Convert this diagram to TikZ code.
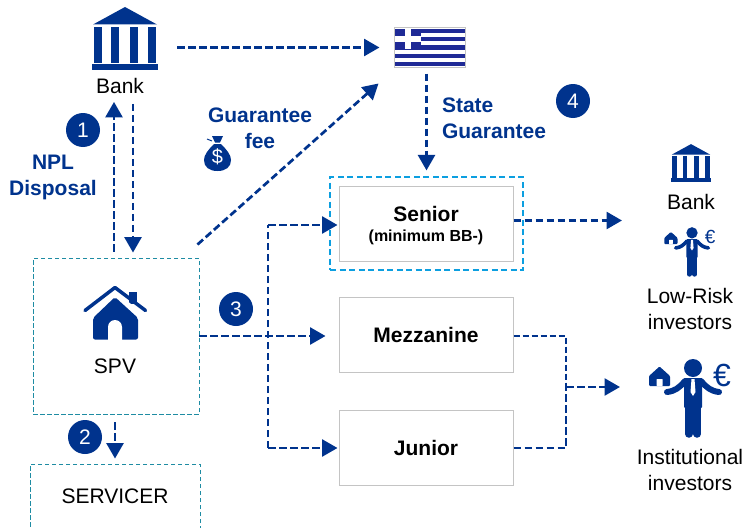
\documentclass[tikz,border=0pt]{standalone}
\usepackage{xcolor}
\usepackage{fontspec}
\setmainfont{Liberation Sans}
\usetikzlibrary{arrows.meta}

\definecolor{navy}{HTML}{00338D}
\definecolor{flagblue}{HTML}{1F2A96}
\definecolor{framelight}{HTML}{0C9FE0}
\definecolor{frameteal}{HTML}{1E8CA3}
\definecolor{boxgray}{HTML}{C4C4C4}

\newcommand{\fs}[1]{\fontsize{#1}{26}\selectfont}

\tikzset{
  flowline/.style={navy,line width=2.7pt,dash pattern=on 7.5pt off 3.5pt},
  flowarrow/.style={flowline,-{Triangle[length=15.5pt,width=17pt]}},
  flowthin/.style={navy,line width=2.2pt,dash pattern=on 6pt off 3pt},
  plainlabel/.style={inner sep=0pt,align=center,font=\fs{21}},
  bluelabel/.style={inner sep=0pt,align=center,text=navy,font=\fs{21}\bfseries},
  numdot/.style={circle,fill=navy,text=white,inner sep=0pt,minimum size=34pt,font=\fs{21}},
  trancheb/.style={draw=boxgray,line width=1pt,fill=white,minimum width=174pt,minimum height=75pt,inner sep=0pt,font=\fs{21}\bfseries},
  tealframe/.style={draw=frameteal,line width=.9pt,dash pattern=on 4.5pt off 2.5pt,inner sep=0pt},
  pics/bankicon/.style={code={
    \fill[navy] (0,-31.5) -- (32,-14) -- (-32,-14) -- cycle;
    \foreach \cx in {-27,-10,9,27}
      \fill[navy] (\cx-4,-11.5) rectangle (\cx+4,24.5);
    \fill[navy] (-33,25.5) rectangle (33,31.5);
  }},
  pics/investor/.style 2 args={code={
    \fill[navy] (0,-32) circle (9);
    \fill[navy,rounded corners=1pt] (-9,-22) rectangle (9,8);
    \draw[navy,line width=#2,line cap=round] (-8,-19) .. controls (-14,-12) and (-18,-9) .. (-26,-8);
    \draw[navy,line width=#2,line cap=round] (8,-19) .. controls (14,-12) and (18,-9) .. (26,-8);
    \draw[navy,line width=#2*1.25,line cap=round] (-4.2,6) -- (-4.2,34);
    \draw[navy,line width=#2*1.25,line cap=round] (4.2,6) -- (4.2,34);
    \fill[white] (-1.5,-21) -- (1.5,-21) -- (2.5,-8) -- (0,-4) -- (-2.5,-8) -- cycle;
    \fill[navy,rounded corners=1pt] (-33.5,-33.5) -- (-23,-24) -- (-23,-14) -- (-44,-14) -- (-44,-24) -- cycle;
    \fill[white,rounded corners=.5pt] (-36.5,-14) rectangle (-30.5,-21);
    \node[text=navy,inner sep=0pt,font=\fontsize{#1}{#1}\selectfont] at (29,-25) {€};
  }}
}

\begin{document}
\begin{tikzpicture}[x=1pt,y=-1pt]
  \useasboundingbox (0,0) rectangle (746,527);

  % left column
  \pic at (125,38.5) {bankicon};
  \node[minimum width=66pt,minimum height=63pt,inner sep=0pt] (bank) at (125,38.5) {};
  \node[plainlabel] (banklbl) at (120,86) {Bank};
  \node[tealframe,minimum width=166pt,minimum height=156pt] (spv) at (116,336) {};
  \node[plainlabel] (spvlbl) at (115,366) {SPV};
  \node[tealframe,minimum width=170pt,minimum height=64pt,font=\fs{21}] (servicer) at (115,496) {SERVICER};

  % house of the spv
  \fill[navy,rounded corners=2pt] (115,297) -- (138,318) -- (138,339.5) -- (93,339.5) -- (93,318) -- cycle;
  \fill[navy] (129,292) rectangle (137,304);
  \draw[white,line width=3pt] (115,292) -- (140,314);
  \draw[navy,line width=3.5pt,line cap=round,line join=round] (85,310.5) -- (115,287.5) -- (145.5,310.5);
  \fill[white] (108,340) -- (108,327) arc (180:360:7) -- (122,340) -- cycle;

  % flag
  \node[draw=boxgray,line width=1pt,minimum width=71pt,minimum height=39pt,inner sep=0pt] (flag) at (429.5,47.5) {};
  \fill[flagblue] (395,29) rectangle (465,66);
  \foreach \st in {1,3,5,7}
    \fill[white] (395,29+\st*4.11) rectangle (465,29+\st*4.11+4.11);
  \fill[flagblue] (395,29) rectangle (421,49.5);
  \fill[white] (404.5,29) rectangle (410.5,49.5);
  \fill[white] (395,36.5) rectangle (421,42.5);

  % tranches
  \node[draw=framelight,line width=1.2pt,dash pattern=on 6pt off 3.5pt,minimum width=193pt,minimum height=93pt,inner sep=0pt] (seniorframe) at (426.5,223.5) {};
  \node[trancheb] (senior) at (426,223.5) {};
  \node[inner sep=0pt,font=\fs{21}\bfseries] (seniorlbl) at (426,214) {Senior};
  \node[inner sep=0pt,font=\fs{16}\bfseries] (seniorsub) at (426,237) {(minimum BB-)};
  \node[trancheb] (mezz) at (426,334.5) {Mezzanine};
  \node[trancheb] (junior) at (426,448) {Junior};

  % investors
  \pic[scale=.6] at (691,163) {bankicon};
  \node[plainlabel] (bankinv) at (691,202) {Bank};
  \pic[scale=.63] at (692,253) {investor={19}{3.6pt}};
  \node[plainlabel] (lowrisk) at (690,309) {Low-Risk\\investors};
  \pic at (693,400) {investor={32}{6pt}};
  \node[plainlabel] (instit) at (690,470) {Institutional\\investors};

  % money bag
  \fill[navy] (214,144) .. controls (208,150) and (204,155) .. (204,160)
    .. controls (204,167) and (209,171) .. (217.5,171)
    .. controls (226,171) and (231,167) .. (231,160)
    .. controls (231,155) and (227,150) .. (221,144) -- cycle;
  \fill[navy] (212,136) -- (223,136) -- (220,142.5) -- (215,142.5) -- cycle;
  \draw[navy,line width=1pt] (207,139) -- (212,141);
  \node[text=white,inner sep=0pt,font=\fs{20}] (dollar) at (217.5,157) {\$};

  % text and numbers
  \node[numdot] (one) at (83,130) {1};
  \node[numdot] (two) at (85,437) {2};
  \node[numdot] (three) at (236,309) {3};
  \node[numdot] (four) at (573,101) {4};
  \node[bluelabel] (npl) at (53,177) {NPL\\Disposal};
  \node[bluelabel] (fee) at (260,128) {Guarantee\\fee};
  \node[bluelabel,align=left] (state) at (494,118) {State\\Guarantee};

  % free ends
  \coordinate (split) at (268,336);
  \coordinate (trunktop) at (268,225);
  \coordinate (trunkend) at (268,448);
  \coordinate (seniorout) at (622,220.5);
  \coordinate (merge) at (566,387);
  \coordinate (mergeout) at (620,387);

  % connectors
  \draw[flowarrow,shorten <=19pt,shorten >=14pt] (bank.east |- flag.west) -- (flag.west);
  \draw[flowarrow] ([xshift=-2pt,yshift=6pt]spv.north) -- ([xshift=-6pt,yshift=-8pt]banklbl.south);
  \draw[flowarrow] ([xshift=13pt,yshift=-10pt]banklbl.south) -- ([xshift=17pt,yshift=5pt]spv.north);
  \draw[flowarrow] ([xshift=-2pt,yshift=13pt]spv.north east) -- ([xshift=-15pt,yshift=-16pt]flag.south west);
  \draw[flowarrow,shorten <=6pt,shorten >=6pt] (seniorframe.north |- flag.south) -- (seniorframe.north);
  \draw[flowarrow] (senior.east |- seniorout) -- (seniorout);
  \draw[flowarrow,shorten >=13pt] (spv.east |- split) -- (split -| mezz.west);
  \draw[flowline] (trunkend) -- (trunktop);
  \draw[flowarrow,shorten >=1pt] (trunktop) -- (trunktop -| senior.west);
  \draw[flowarrow,shorten >=1pt] (trunkend) -- (junior.west);
  \draw[flowthin] (split -| mezz.east) -| (merge);
  \draw[flowline] (junior.east) -| (merge);
  \draw[flowarrow] (merge) -- (mergeout);
  \draw[flowarrow,shorten <=8pt,shorten >=5pt] (servicer.north |- spv.south) -- (servicer.north);
\end{tikzpicture}
\end{document}
